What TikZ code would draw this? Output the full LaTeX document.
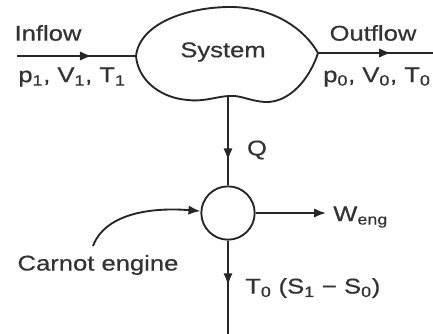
\documentclass[tikz,border=0pt]{standalone}
\usepackage{fontspec}
\setmainfont{Liberation Sans}[FakeStretch=1.2,FakeBold=0.6]
\usetikzlibrary{arrows.meta,decorations.markings}
\begin{document}
\begin{tikzpicture}[x=0.75pt,y=-0.75pt,
  line/.style={draw=black!85,line width=1.4pt},
  midarrow/.style={postaction={decorate},decoration={markings,mark=at position #1 with {\arrow{Latex[length=9pt,width=7pt]}}}},
  lbl/.style={font=\fontsize{16}{18}\selectfont,text=black!80,inner sep=0pt}]
\useasboundingbox (0,0) rectangle (433,333);
% system blob
\draw[line] (136,56) .. controls (140,22) and (190,7) .. (230,7)
  .. controls (275,7) and (305,30) .. (318,53)
  .. controls (310,78) and (290,103) .. (265,102)
  .. controls (250,101) and (240,95) .. (230,96)
  .. controls (218,96) and (205,102) .. (188,100)
  .. controls (160,98) and (138,80) .. (136,56) -- cycle;
\node[lbl] (sys) at (223,52) {System};
\coordinate (sysL) at (136,56);
\coordinate (sysR) at (318,53);
\coordinate (sysB) at (228,96);
\coordinate (in0) at (17,56);
\coordinate (out1) at (440,53);
\draw[line,midarrow=0.63] (in0) -- (sysL);
\draw[line,midarrow=0.6] (sysR) -- (out1);
\node[lbl] (inflow) at (48,33) {Inflow};
\node[lbl] (pin) at (72,77) {p\textsubscript{1}, V\textsubscript{1}, T\textsubscript{1}};
\node[lbl] (outflow) at (373,33) {Outflow};
\node[lbl,anchor=west] (pout) at (323,77) {p\textsubscript{0}, V\textsubscript{0}, T\textsubscript{0}};
% engine
\node[circle,line,minimum size=40pt,inner sep=0pt] (eng) at (228,213) {};
\draw[line,midarrow=0.72] (sysB) -- (eng.north);
\node[lbl] (q) at (257,150) {Q};
\coordinate (w) at (326,213);
\draw[line,-{Latex[length=9pt,width=7pt]}] (eng.east) -- (w);
\node[lbl,anchor=west] (weng) at (333,217) {W\textsubscript{eng}};
\coordinate (bot) at (228,340);
\draw[line,midarrow=0.45] (eng.south) -- (bot);
\node[lbl,anchor=west] (rej) at (245,288) {T\textsubscript{0} (S\textsubscript{1} − S\textsubscript{0})};
\coordinate (ce) at (93,246);
\draw[line,-{Latex[length=9pt,width=7pt]}] (ce) .. controls (105,214) and (150,207) .. (eng.176);
\node[lbl] (carnot) at (98,265) {Carnot engine};
\end{tikzpicture}
\end{document}
